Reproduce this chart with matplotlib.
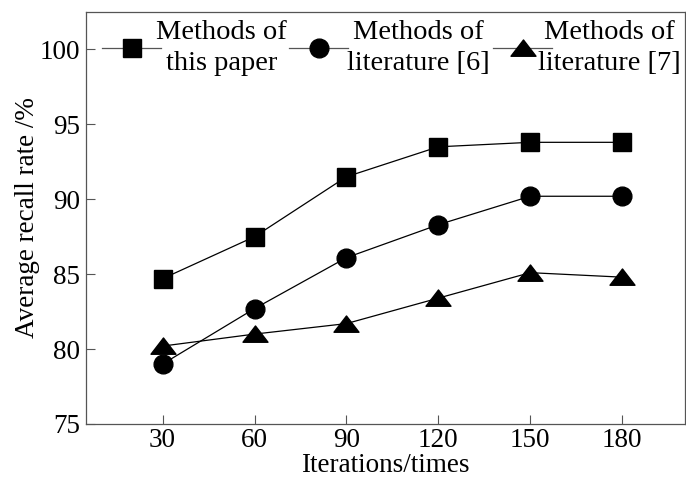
import numpy as np
import matplotlib.pyplot as plt
from matplotlib.path import Path

plt.rcParams['font.family'] = ['Liberation Serif', 'DejaVu Serif']

# 数据
iterations = [30, 60, 90, 120, 150, 180]
this_paper = [84.7, 87.5, 91.5, 93.5, 93.8, 93.8]
lit6 = [79.0, 82.7, 86.1, 88.3, 90.2, 90.2]
lit7 = [80.2, 81.0, 81.7, 83.4, 85.1, 84.8]
labels = ['Methods of\nthis paper', 'Methods of\nliterature [6]', 'Methods of\nliterature [7]']

# 扁三角形标记
tri = Path([(-1, -0.62), (1, -0.62), (0, 0.68), (-1, -0.62)],
           [Path.MOVETO, Path.LINETO, Path.LINETO, Path.CLOSEPOLY])

fig = plt.figure(figsize=(6.86, 4.83), dpi=100)
ax = fig.add_axes([0.1254, 0.1222, 0.873, 0.853])

fs = 19.5
l1, = ax.plot(iterations, this_paper, color='black', lw=0.9, marker='s', ms=13.5)
l2, = ax.plot(iterations, lit6, color='black', lw=0.9, marker='o', ms=13.5)
l3, = ax.plot(iterations, lit7, color='black', lw=0.9, marker=tri, ms=18)

ax.set_xlim(5, 200.5)
ax.set_ylim(75, 102.5)
ax.set_xticks(iterations)
ax.set_yticks([75, 80, 85, 90, 95, 100])
ax.tick_params(direction='in', length=6.5, width=0.8, color='#555555', labelsize=fs)
ax.tick_params(axis='x', pad=3)
ax.tick_params(axis='y', pad=4)
for sp in ax.spines.values():
    sp.set_color('#555555')
    sp.set_linewidth(0.9)

ax.set_xlabel('Iterations/times', fontsize=fs, labelpad=0)
ax.set_ylabel('Average recall rate /%', fontsize=fs, labelpad=0)

# 图例：每个条目单独放置
anchors = [0.0175, 0.3297, 0.6703]
pads = [-0.17, -0.04, -0.5]
for line, lab, x0, pad in zip([l1, l2, l3], labels, anchors, pads):
    leg = ax.legend([line], [lab], loc='upper left', bbox_to_anchor=(x0, 0.995),
                    frameon=False, fontsize=20.5, handlelength=2.07, handletextpad=pad,
                    borderaxespad=0, borderpad=0.2)
    for t in leg.get_texts():
        t.set_multialignment('center')
        t.set_linespacing(1.35)
    for h in leg.get_lines():
        h.set_color('#555555')
        h.set_markerfacecolor('black')
        h.set_markeredgecolor('black')
    ax.add_artist(leg)
ax.legend_ = None  # 避免最后一个图例画两次

fig.savefig('out.png', dpi=100)
